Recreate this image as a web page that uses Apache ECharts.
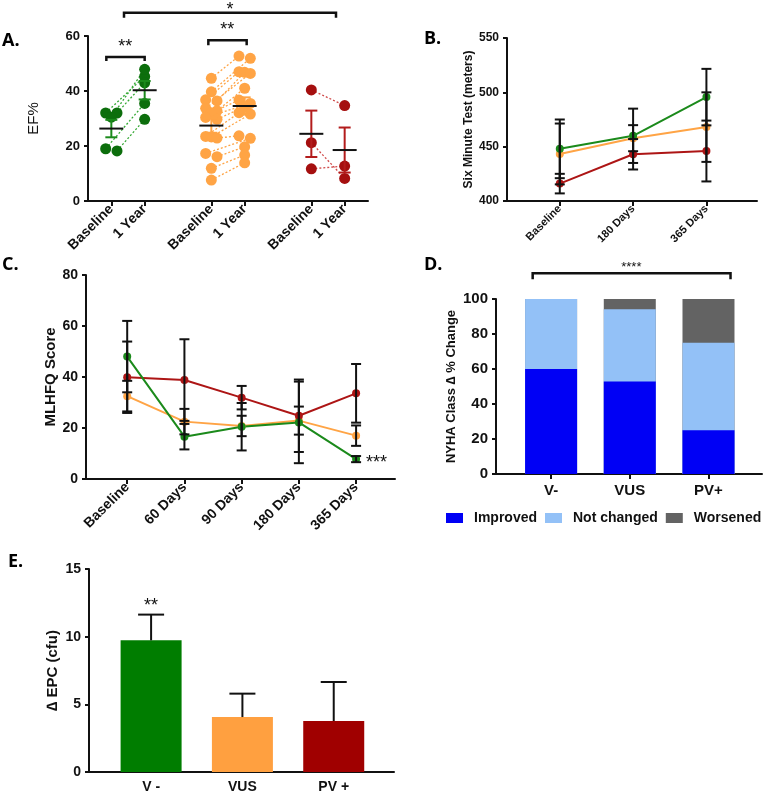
<!DOCTYPE html>
<html>
<head>
<meta charset="utf-8">
<title>Outcomes by variant group</title>
<script src="https://cdn.jsdelivr.net/npm/echarts@6/dist/echarts.min.js"></script>
<style>
  html, body { margin: 0; padding: 0; background: #fff; }
  #chart { width: 770px; height: 797px; }
</style>
</head>
<body>
<div id="chart"></div>
<script>
// A. EF% at baseline and 1 year (paired, one entry per patient)
const efTicks = [0, 1, 3, 4, 6, 7];
const efTickLabels = ['Baseline', '1 Year', 'Baseline', '1 Year', 'Baseline', '1 Year'];
const efGreenBase = [32, 32, 30.5, 19, 18.2];
const efGreenYear = [45.3, 43.0, 47.9, 35.5, 29.7];
const efOrangeBase = [44.6, 39.7, 36.8, 36.4, 33.7, 32.8, 32.1, 30.4, 29.7, 23.5, 23.3, 22.9, 17.3, 16.1, 11.9, 7.6];
const efOrangeYear = [52.7, 51.9, 47.0, 46.8, 46.4, 41.0, 36.7, 35.5, 34.3, 32.1, 31.6, 23.7, 22.8, 19.7, 16.7, 13.9];
const efRedBase = [40.4, 21.2, 11.7];
const efRedYear = [34.7, 8.2, 12.7];

// B. six minute walk test (mean, sem)
const sixTicks = [0, 1, 2];
const sixTickLabels = ['Baseline', '180 Days', '365 Days'];
const sixGreen = [448, 460, 495.6];
const sixGreenSem = [27, 25, 26];
const sixOrange = [443.3, 457.8, 468];
const sixOrangeSem = [28, 12, 32];
const sixRed = [416, 443, 446];
const sixRedSem = [9, 14, 28];

// C. MLHFQ score (mean, sem)
const mlTicks = [0, 1, 2, 3, 4];
const mlTickLabels = ['Baseline', '60 Days', '90 Days', '180 Days', '365 Days'];
const mlRed = [39.9, 38.8, 31.9, 24.8, 33.6];
const mlRedSem = [14, 16, 4.6, 14.2, 11.5];
const mlOrange = [32.5, 22.5, 20.8, 22.9, 17.0];
const mlOrangeSem = [6, 5, 4, 5.5, 4];
const mlGreen = [48, 16.6, 20.5, 22.2, 7.8];
const mlGreenSem = [14, 5, 9.3, 16, 1.2];

// D. NYHA class change (%)
const nyhaGroups = ['V-', 'VUS', 'PV+'];
const nyhaImproved = [60, 52.9, 25];
const nyhaNotChanged = [40, 41.2, 50];
const nyhaWorsened = [0, 5.9, 25];

// E. delta EPC
const epcGroups = ['V -', 'VUS', 'PV +'];
const epcValues = [9.73, 4.06, 3.77];
const epcSem = [1.9, 1.73, 2.88];

const FONT = "'Liberation Sans', Arial, sans-serif";
const INK = '#111';
const GREEN = '#1b8a1b', ORANGE = '#ffa445', RED = '#ad1515';
const DOT_GREEN = '#0c6e0c', DOT_RED = '#a50f0f';

const mean = a => a.reduce((s, v) => s + v, 0) / a.length;
const sem = a => {
  const m = mean(a);
  return Math.sqrt(a.reduce((s, v) => s + (v - m) * (v - m), 0) / (a.length - 1) / a.length);
};

// spread dots of similar value sideways (rows, like a column scatter)
function rowOffsets(values, step, tol) {
  const idx = values.map((v, i) => i).sort((a, b) => values[b] - values[a]);
  const off = new Array(values.length).fill(0);
  let i = 0;
  while (i < idx.length) {
    const start = values[idx[i]];
    let j = i;
    while (j + 1 < idx.length && start - values[idx[j + 1]] <= tol) j++;
    const n = j - i + 1;
    const slots = [];
    if (n % 2) { for (let k = -(n - 1) / 2; k <= (n - 1) / 2; k++) slots.push(k); }
    else { for (let k = -n / 2; k <= n / 2; k++) if (k !== 0) slots.push(k); }
    for (let k = 0; k < n; k++) off[idx[i + k]] = slots[k] * step;
    i = j + 1;
  }
  return off;
}

function xAxisOf(grid, min, max, ticks, labels, size, rotate, showTick, margin) {
  return {
    type: 'value', gridIndex: grid, min, max,
    splitLine: { show: false },
    axisLine: { onZero: false, lineStyle: { color: INK, width: 2 } },
    axisTick: { show: showTick, customValues: ticks, length: 5, lineStyle: { color: INK, width: 2 } },
    axisLabel: {
      customValues: ticks, rotate, margin,
      formatter: v => { const k = ticks.indexOf(Math.round(v)); return k < 0 ? '' : labels[k]; },
      fontSize: size, fontWeight: 'bold', fontFamily: FONT, color: INK
    }
  };
}

function yAxisOf(grid, min, max, interval, size, name, nameSize, nameGap, nameBold) {
  return {
    type: 'value', gridIndex: grid, min, max, interval,
    name, nameLocation: 'middle', nameGap,
    nameTextStyle: { fontSize: nameSize, fontWeight: nameBold ? 'bold' : 'normal', fontFamily: FONT, color: INK },
    splitLine: { show: false },
    axisLine: { show: true, onZero: false, lineStyle: { color: INK, width: 2 } },
    axisTick: { show: true, length: 4, lineStyle: { color: INK, width: 2 } },
    axisLabel: { fontSize: size, fontWeight: 'bold', fontFamily: FONT, color: INK, margin: 8 }
  };
}

function errorBars(grid, data, color, cap, width) {
  return {
    type: 'custom', xAxisIndex: grid, yAxisIndex: grid, silent: true, z: 4,
    data,
    renderItem: (p, api) => {
      const x = api.value(0);
      const lo = api.coord([x, api.value(1)]), hi = api.coord([x, api.value(2)]);
      const style = { stroke: color, lineWidth: width };
      return { type: 'group', children: [
        { type: 'line', shape: { x1: lo[0], y1: lo[1], x2: hi[0], y2: hi[1] }, style },
        { type: 'line', shape: { x1: lo[0] - cap, y1: lo[1], x2: lo[0] + cap, y2: lo[1] }, style },
        { type: 'line', shape: { x1: hi[0] - cap, y1: hi[1], x2: hi[0] + cap, y2: hi[1] }, style }
      ] };
    }
  };
}

function bracket(grid, x1, x2, y, leg) {
  return {
    type: 'custom', xAxisIndex: grid, yAxisIndex: grid, silent: true, z: 5,
    data: [[x1, x2, y]],
    renderItem: (p, api) => {
      const a = api.coord([api.value(0), api.value(2)]), b = api.coord([api.value(1), api.value(2)]);
      return { type: 'polyline',
        shape: { points: [[a[0], a[1] + leg], a, b, [b[0], b[1] + leg]] },
        style: { stroke: INK, lineWidth: 2.5, fill: null } };
    }
  };
}

function note(grid, x, y, text, dx, dy, size, align) {
  return {
    type: 'custom', xAxisIndex: grid, yAxisIndex: grid, silent: true, z: 6,
    data: [[x, y]],
    renderItem: (p, api) => {
      const c = api.coord([api.value(0), api.value(1)]);
      return { type: 'text', x: c[0] + dx, y: c[1] + dy,
        style: { text, fill: INK, fontSize: size, fontFamily: FONT, align: align || 'center', verticalAlign: 'middle' } };
    }
  };
}

const series = [];

// ---- A ----
const efGroups = [
  { base: efGreenBase, year: efGreenYear, pos: [0, 1], dot: DOT_GREEN, bar: GREEN, line: '#33a833' },
  { base: efOrangeBase, year: efOrangeYear, pos: [3, 4], dot: ORANGE, bar: ORANGE, line: ORANGE },
  { base: efRedBase, year: efRedYear, pos: [6, 7], dot: DOT_RED, bar: '#b31c1c', line: '#d04a4a' }
];
efGroups.forEach(g => {
  const ob = rowOffsets(g.base, 0.17, 1.25), oy = rowOffsets(g.year, 0.17, 1.25);
  const bx = g.base.map((v, i) => g.pos[0] + ob[i]);
  const yx = g.year.map((v, i) => g.pos[1] + oy[i]);
  series.push({
    type: 'custom', xAxisIndex: 0, yAxisIndex: 0, silent: true, z: 1,
    data: g.base.map((v, i) => [bx[i], v, yx[i], g.year[i]]),
    renderItem: (p, api) => {
      const a = api.coord([api.value(0), api.value(1)]), b = api.coord([api.value(2), api.value(3)]);
      return { type: 'line', shape: { x1: a[0], y1: a[1], x2: b[0], y2: b[1] },
        style: { stroke: g.line, lineWidth: 1.3, lineDash: [2, 2] } };
    }
  });
  series.push({
    type: 'scatter', xAxisIndex: 0, yAxisIndex: 0, symbolSize: 11, z: 2,
    itemStyle: { color: g.dot, opacity: 1 },
    data: g.base.map((v, i) => [bx[i], v]).concat(g.year.map((v, i) => [yx[i], v]))
  });
  series.push({
    type: 'custom', xAxisIndex: 0, yAxisIndex: 0, silent: true, z: 3,
    data: [[g.pos[0], mean(g.base), sem(g.base)], [g.pos[1], mean(g.year), sem(g.year)]],
    renderItem: (p, api) => {
      const x = api.value(0), m = api.value(1), s = api.value(2);
      const c = api.coord([x, m]), lo = api.coord([x, m - s]), hi = api.coord([x, m + s]);
      const st = { stroke: g.bar, lineWidth: 2 };
      return { type: 'group', children: [
        { type: 'line', shape: { x1: lo[0], y1: lo[1], x2: hi[0], y2: hi[1] }, style: st },
        { type: 'line', shape: { x1: lo[0] - 6, y1: lo[1], x2: lo[0] + 6, y2: lo[1] }, style: st },
        { type: 'line', shape: { x1: hi[0] - 6, y1: hi[1], x2: hi[0] + 6, y2: hi[1] }, style: st },
        { type: 'line', shape: { x1: c[0] - 12, y1: c[1], x2: c[0] + 12, y2: c[1] }, style: { stroke: INK, lineWidth: 2 } }
      ] };
    }
  });
});
series.push(bracket(0, -0.15, 1, 52.4, 4));
series.push(note(0, 0.42, 52.4, '**', 0, -10, 18));
series.push(bracket(0, 2.91, 4.06, 58.5, 5));
series.push(note(0, 3.48, 58.5, '**', 0, -10, 18));
series.push(bracket(0, 0.38, 6.74, 68.5, 5));
series.push(note(0, 3.56, 68.5, '*', 0, -3, 18));

// ---- B & C: lines with black sem bars ----
function trend(grid, vals, sems, color) {
  series.push({
    type: 'line', xAxisIndex: grid, yAxisIndex: grid, z: 2,
    data: vals.map((v, i) => [i, v]),
    symbol: 'circle', symbolSize: 8, showSymbol: true,
    lineStyle: { color, width: 2 }, itemStyle: { color }
  });
  series.push(errorBars(grid, vals.map((v, i) => [i, v - sems[i], v + sems[i]]), INK, 5, 2));
}
trend(1, sixOrange, sixOrangeSem, ORANGE);
trend(1, sixRed, sixRedSem, RED);
trend(1, sixGreen, sixGreenSem, GREEN);

trend(2, mlOrange, mlOrangeSem, ORANGE);
trend(2, mlRed, mlRedSem, RED);
trend(2, mlGreen, mlGreenSem, GREEN);
series.push(note(2, 4, mlGreen[4], '***', 10, 4, 18, 'left'));

// ---- D: stacked bars (cumulative tops, drawn back to front) ----
const nyhaParts = [nyhaImproved, nyhaNotChanged, nyhaWorsened];
const nyhaNames = ['Improved', 'Not changed', 'Worsened'];
const nyhaColors = ['#0000f5', '#93c1f7', '#636363'];
const nyhaTops = nyhaParts.map((part, k) =>
  part.map((v, i) => nyhaParts.slice(0, k + 1).reduce((s, p) => s + p[i], 0)));
[2, 1, 0].forEach(k => {
  series.push({
    type: 'bar', name: nyhaNames[k], xAxisIndex: 3, yAxisIndex: 3, barWidth: 52, barGap: '-100%',
    itemStyle: { color: nyhaColors[k] }, data: nyhaTops[k].map((v, i) => [i, v])
  });
});
series.push(bracket(3, -0.234, 2.28, 114.7, 6));
series.push(note(3, 1.02, 114.7, '****', 0, -6, 13));

// ---- E: bars with upper sem ----
const epcColors = ['#007d00', '#ffa040', '#a00000'];
series.push({
  type: 'bar', xAxisIndex: 4, yAxisIndex: 4, barWidth: 61, z: 2,
  data: epcValues.map((v, i) => ({ value: [i, v], itemStyle: { color: epcColors[i] } }))
});
series.push({
  type: 'custom', xAxisIndex: 4, yAxisIndex: 4, silent: true, z: 3,
  data: epcValues.map((v, i) => [i, v, v + epcSem[i]]),
  renderItem: (p, api) => {
    const x = api.value(0);
    const lo = api.coord([x, api.value(1)]), hi = api.coord([x, api.value(2)]);
    const st = { stroke: INK, lineWidth: 2 };
    return { type: 'group', children: [
      { type: 'line', shape: { x1: lo[0], y1: lo[1], x2: hi[0], y2: hi[1] }, style: st },
      { type: 'line', shape: { x1: hi[0] - 13, y1: hi[1], x2: hi[0] + 13, y2: hi[1] }, style: st }
    ] };
  }
});
series.push(note(4, 0, epcValues[0] + epcSem[0], '**', 0, -9, 18));

const letter = (t, left, top) => ({
  type: 'text', left, top,
  style: { text: t, fontSize: 18, fontWeight: 'bold', fontFamily: "'Open Sans', sans-serif", fill: '#000' }
});

const chart = echarts.init(document.getElementById('chart'));
chart.setOption({
  animation: false,
  backgroundColor: '#fff',
  grid: [
    { left: 88, top: 36, width: 280, height: 165 },
    { left: 507, top: 38, width: 250, height: 163 },
    { left: 86, top: 275, width: 309, height: 204 },
    { left: 496, top: 299, width: 266, height: 175 },
    { left: 89, top: 569, width: 305, height: 203 }
  ],
  xAxis: [
    xAxisOf(0, -0.7, 7.7, efTicks, efTickLabels, 14, 45, true, 6),
    xAxisOf(1, -0.72, 2.69, sixTicks, sixTickLabels, 11, 45, true, 6),
    xAxisOf(2, -0.72, 4.68, mlTicks, mlTickLabels, 14, 45, true, 6),
    xAxisOf(3, -0.70, 2.68, [0, 1, 2], nyhaGroups, 15, 0, true, 9),
    xAxisOf(4, -0.68, 2.66, [0, 1, 2], epcGroups, 14, 0, false, 8)
  ],
  yAxis: [
    yAxisOf(0, 0, 60, 20, 13, 'EF%', 15, 47, false),
    yAxisOf(1, 400, 550, 50, 12, 'Six Minute Test (meters)', 12, 26, true),
    yAxisOf(2, 0, 80, 20, 14, 'MLHFQ Score', 15, 25, true),
    yAxisOf(3, 0, 100, 20, 15, 'NYHA Class \u2206 % Change', 13, 38, true),
    yAxisOf(4, 0, 15, 5, 14, '\u2206 EPC (cfu)', 15, 29, true)
  ],
  legend: {
    data: nyhaNames,
    left: 441, top: 506, width: 420, icon: 'rect', itemWidth: 17, itemHeight: 10, itemGap: 8,
    textStyle: { fontSize: 14, fontWeight: 'bold', fontFamily: FONT, color: INK, padding: [0, 0, 0, 6] }
  },
  graphic: [
    letter('A.', 2, 32),
    letter('B.', 424, 30),
    letter('C.', 2, 256),
    letter('D.', 424, 256),
    letter('E.', 8, 553)
  ],
  series
});
</script>
</body>
</html>
